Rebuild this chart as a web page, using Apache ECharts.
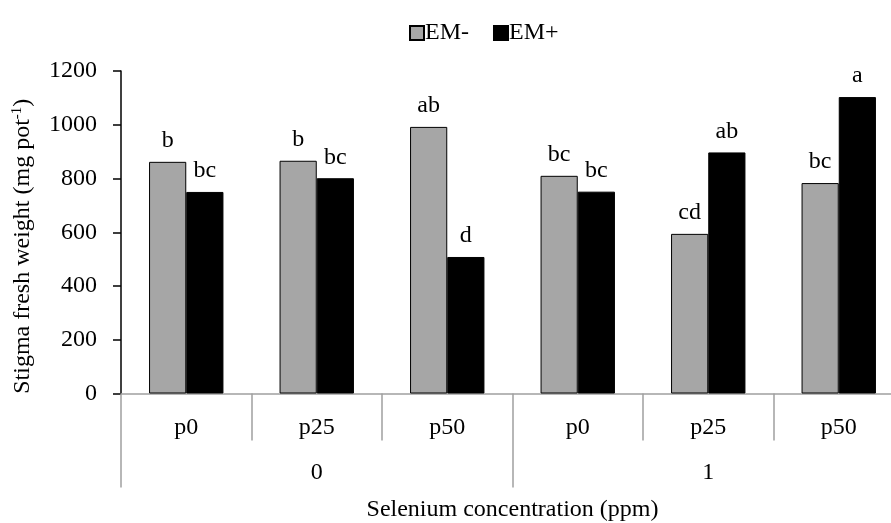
<!DOCTYPE html>
<html>
<head>
<meta charset="utf-8">
<script src="https://cdn.jsdelivr.net/npm/echarts@6/dist/echarts.min.js"></script>
<style>html,body{margin:0;padding:0;background:#fff;overflow:hidden;}#c{width:891px;height:523px;}</style>
</head>
<body>
<div id="c"></div>
<script>
var phosphorus = ['p0', 'p25', 'p50', 'p0', 'p25', 'p50'];
var selenium = ['0', '1'];
var emMinus = [862, 866, 992, 810, 594, 783];
var emPlus = [750, 801, 508, 751, 897, 1103];
var emMinusLetters = ['b', 'b', 'ab', 'bc', 'cd', 'bc'];
var emPlusLetters = ['bc', 'bc', 'd', 'bc', 'ab', 'a'];
var yTicks = [0, 200, 400, 600, 800, 1000, 1200];

var FONT = '"Liberation Serif", "Times New Roman", serif';
var FS = 24;
var chart = echarts.init(document.getElementById('c'), null, {renderer: 'canvas'});
chart.setOption({
  animation: false,
  backgroundColor: '#fff',
  textStyle: {fontFamily: FONT, color: '#000'},
  legend: {
    top: 16, left: 404,
    itemWidth: 14, itemHeight: 14, itemGap: 24,
    icon: 'rect',
    textStyle: {fontFamily: FONT, fontSize: FS, color: '#000', padding: [2, 0, 0, -4]},
    data: ['EM-', 'EM+']
  },
  grid: {left: 121, width: 783, top: 71, height: 322.5, containLabel: false, outerBoundsMode: 'none'},
  xAxis: [{
    type: 'category', data: phosphorus, position: 'bottom',
    axisLine: {show: true, lineStyle: {color: '#a0a0a0', width: 1.5}},
    axisTick: {show: true, length: 47, alignWithLabel: false, lineStyle: {color: '#a0a0a0', width: 1.5}},
    axisLabel: {fontFamily: FONT, fontSize: FS, color: '#000', margin: 22},
    splitLine: {show: false}
  }, {
    type: 'category', data: selenium, position: 'bottom', offset: 47,
    axisLine: {show: false},
    axisTick: {show: true, length: 47, alignWithLabel: false, lineStyle: {color: '#a0a0a0', width: 1.5}},
    axisLabel: {fontFamily: FONT, fontSize: FS, color: '#000', margin: 20},
    name: 'Selenium concentration (ppm)', nameLocation: 'middle', nameGap: 57,
    nameTextStyle: {fontFamily: FONT, fontSize: FS, color: '#000'},
    splitLine: {show: false}
  }],
  yAxis: {
    type: 'value', min: 0, max: 1200, interval: 200,
    axisLine: {show: true, lineStyle: {color: '#000', width: 1.5}},
    axisTick: {show: true, length: 8, lineStyle: {color: '#000', width: 1.5}},
    axisLabel: {fontFamily: FONT, fontSize: FS, color: '#000', margin: 24,
      formatter: function (v) { return yTicks.indexOf(v) >= 0 ? String(v) : ''; }},
    splitLine: {show: false},
    name: 'Stigma fresh weight (mg pot{sup|-1})',
    nameLocation: 'middle', nameGap: 86, nameRotate: 90,
    nameTextStyle: {fontFamily: FONT, fontSize: FS, color: '#000', padding: [0, 28, 0, 0],
      rich: {sup: {fontFamily: FONT, fontSize: 15, color: '#000', verticalAlign: 'top', padding: [0, 0, 10, 0]}}}
  },
  series: [{
    name: 'EM-', type: 'bar', data: emMinus, barWidth: '28.5%', barGap: '0%',
    itemStyle: {color: '#a6a6a6', borderColor: '#000', borderWidth: 1},
    label: {show: true, position: 'top', distance: 9, fontFamily: FONT, fontSize: FS, color: '#000',
      formatter: function (p) { return emMinusLetters[p.dataIndex]; }}
  }, {
    name: 'EM+', type: 'bar', data: emPlus, barWidth: '28.5%', barGap: '0%',
    itemStyle: {color: '#000', borderColor: '#000', borderWidth: 1},
    label: {show: true, position: 'top', distance: 9, fontFamily: FONT, fontSize: FS, color: '#000',
      formatter: function (p) { return emPlusLetters[p.dataIndex]; }}
  }]
});
</script>
</body>
</html>
